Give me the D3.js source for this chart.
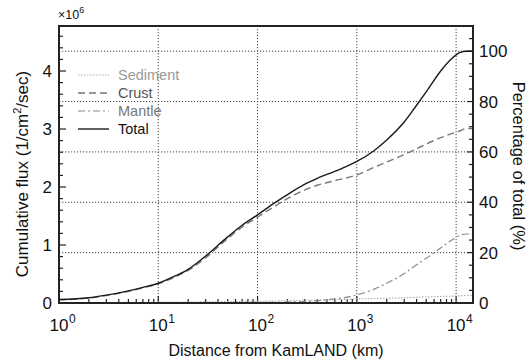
<!DOCTYPE html>
<html><head><meta charset="utf-8">
<script src="https://cdn.jsdelivr.net/npm/d3@7"></script>
<style>
body{margin:0;background:#fff;}
svg{display:block;font-family:"Liberation Sans",Arial,Helvetica,sans-serif;}
</style></head>
<body><svg id="c" width="528" height="361"></svg>
<script>
const distances = [1, 2, 3, 5, 7, 10, 15, 20, 30, 50, 70, 100, 150, 200, 300, 400, 600, 800, 1000, 1500, 2000, 3000, 4000, 5000, 7000, 9000, 11000, 12742, 14500];
const totalFlux = [0.06, 0.09, 0.135, 0.21, 0.27, 0.34, 0.47, 0.58, 0.81, 1.14, 1.34, 1.52, 1.73, 1.87, 2.05, 2.15, 2.27, 2.36, 2.44, 2.63, 2.81, 3.12, 3.41, 3.64, 4.00, 4.21, 4.32, 4.342, 4.342];
const crustFlux = [0.055, 0.085, 0.13, 0.20, 0.26, 0.33, 0.455, 0.56, 0.78, 1.11, 1.31, 1.48, 1.67, 1.80, 1.95, 2.03, 2.11, 2.16, 2.21, 2.34, 2.43, 2.56, 2.66, 2.74, 2.85, 2.92, 2.97, 3.01, 3.01];
const mantleFlux = [0, 0, 0, 0, 0, 0, 0, 0, 0.002, 0.004, 0.006, 0.01, 0.012, 0.015, 0.025, 0.04, 0.07, 0.10, 0.14, 0.24, 0.34, 0.51, 0.66, 0.77, 0.95, 1.08, 1.17, 1.19, 1.19];
const sedimentFlux = [0.003, 0.005, 0.006, 0.008, 0.009, 0.01, 0.013, 0.016, 0.02, 0.024, 0.027, 0.03, 0.035, 0.04, 0.045, 0.05, 0.058, 0.064, 0.07, 0.077, 0.083, 0.09, 0.098, 0.104, 0.112, 0.118, 0.124, 0.13, 0.13];
const seriesNames = ["Sediment", "Crust", "Mantle", "Total"];
const xTickExps = [0, 1, 2, 3, 4];
const yTickLabels = [0, 1, 2, 3, 4];
const pctTickLabels = [0, 20, 40, 60, 80, 100];

const svg = d3.select("#c");
const L = 59, R = 473, T = 26, B = 303;
const totalEnd = 4.342;
const x = d3.scaleLog().domain([1, 14800]).range([L, R]);
const y = d3.scaleLinear().domain([0, totalEnd * 1.1]).range([B, T]);
const yp = d3.scaleLinear().domain([0, 110]).range([B, T]);

const grid = svg.append("g").attr("stroke", "#444").attr("stroke-width", 1).attr("stroke-dasharray", "1.2,1.8");
xTickExps.slice(1).forEach(e => {
  grid.append("line").attr("x1", x(Math.pow(10, e))).attr("x2", x(Math.pow(10, e))).attr("y1", T).attr("y2", B);
});
pctTickLabels.slice(1).forEach(p => {
  grid.append("line").attr("x1", L).attr("x2", R).attr("y1", yp(p)).attr("y2", yp(p));
});

// axes ticks
const ax = svg.append("g").attr("stroke", "#222").attr("stroke-width", 1.2);
d3.range(0, 4.8, 0.2).forEach(v => {
  const major = Math.abs(v - Math.round(v)) < 1e-6;
  ax.append("line").attr("x1", L).attr("x2", L + (major ? 7 : 4)).attr("y1", y(v)).attr("y2", y(v));
});
d3.range(0, 111, 5).forEach(p => {
  const major = p % 20 === 0;
  ax.append("line").attr("x1", R).attr("x2", R - (major ? 6 : 4)).attr("y1", yp(p)).attr("y2", yp(p));
});
for (let e = 0; e <= 4; e++) {
  for (let m = 1; m <= 9; m++) {
    const v = m * Math.pow(10, e);
    if (v > 14800) break;
    ax.append("line").attr("x1", x(v)).attr("x2", x(v)).attr("y1", B).attr("y2", B - (m === 1 ? 7 : 4));
  }
}

// curves
const line = d3.line().x(d => x(d[0])).y(d => y(d[1])).curve(d3.curveMonotoneX);
const styles = {
  Sediment: {data: sedimentFlux, color: "#aaa", dash: "1.5,1.5", w: 1.1},
  Crust: {data: crustFlux, color: "#777", dash: "7,4", w: 1.4},
  Mantle: {data: mantleFlux, color: "#888", dash: "7,3,2,3", w: 1.2},
  Total: {data: totalFlux, color: "#1a1a1a", dash: null, w: 1.4}
};
seriesNames.forEach(n => {
  const s = styles[n];
  svg.append("path").datum(distances.map((d, i) => [d, s.data[i]]))
    .attr("d", line).attr("fill", "none").attr("stroke", s.color)
    .attr("stroke-width", s.w).attr("stroke-dasharray", s.dash);
});

// frame
svg.append("rect").attr("x", L).attr("y", T).attr("width", R - L).attr("height", B - T)
  .attr("fill", "none").attr("stroke", "#222").attr("stroke-width", 2);

// tick labels
const tl = svg.append("g").attr("font-size", 17).attr("fill", "#111");
yTickLabels.forEach(v => {
  tl.append("text").attr("x", 52).attr("y", y(v)).attr("dy", "0.36em").attr("text-anchor", "end").text(v);
});
pctTickLabels.forEach(p => {
  tl.append("text").attr("x", 479).attr("y", yp(p)).attr("dy", "0.36em").attr("text-anchor", "start").text(p);
});
xTickExps.forEach(e => {
  const px = x(Math.pow(10, e));
  tl.append("text").attr("x", px).attr("y", 331).attr("text-anchor", "middle").text("10");
  tl.append("text").attr("x", px + 10).attr("y", 323).attr("font-size", 12).attr("text-anchor", "start").text(e);
});

// multiplier
const mult = svg.append("text").attr("x", 58).attr("y", 19).attr("font-size", 12.5).attr("fill", "#111");
mult.append("tspan").text("×10");
mult.append("tspan").attr("font-size", 9).attr("dy", -6).text("6");

// axis titles
svg.append("text").attr("x", 276).attr("y", 356).attr("text-anchor", "middle").attr("font-size", 16).attr("fill", "#111")
  .text("Distance from KamLAND (km)");
const lt = svg.append("text").attr("transform", "translate(28,174) rotate(-90)").attr("text-anchor", "middle")
  .attr("font-size", 17).attr("fill", "#111");
lt.append("tspan").text("Cumulative flux (1/cm");
lt.append("tspan").attr("font-size", 11).attr("dy", -7).text("2");
lt.append("tspan").attr("dy", 7).text("/sec)");
svg.append("text").attr("transform", "translate(513,166) rotate(90)").attr("text-anchor", "middle")
  .attr("font-size", 16.5).attr("fill", "#111").text("Percentage of total (%)");

// legend
const legColors = {Sediment: "#999", Crust: "#555", Mantle: "#777", Total: "#111"};
seriesNames.forEach((n, i) => {
  const s = styles[n];
  const ly = 75 + i * 18;
  svg.append("line").attr("x1", 78).attr("x2", 109).attr("y1", ly).attr("y2", ly)
    .attr("stroke", s.color).attr("stroke-width", s.w).attr("stroke-dasharray", s.dash);
  svg.append("text").attr("x", 118).attr("y", ly).attr("dy", "0.36em").attr("font-size", 14.5)
    .attr("fill", legColors[n]).text(n);
});
</script></body></html>
